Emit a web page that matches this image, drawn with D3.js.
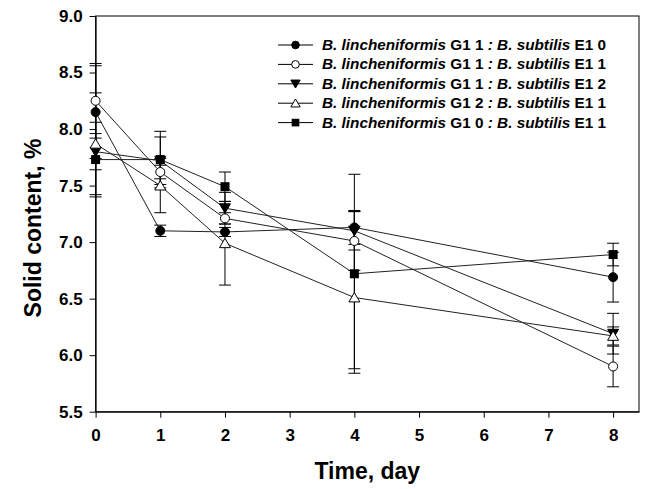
<!DOCTYPE html>
<html><head><meta charset="utf-8">
<script src="https://cdn.jsdelivr.net/npm/d3@7"></script>
<style>body{margin:0;background:#fff}svg{display:block}text{font-family:"Liberation Sans",Arial,sans-serif;font-weight:bold}</style>
</head><body><svg id="c" width="648" height="489"></svg>
<script>
const days = [0, 1, 2, 4, 8];
const xTicks = [0,1,2,3,4,5,6,7,8];
const yTicks = [5.5,6.0,6.5,7.0,7.5,8.0,8.5,9.0];
const seriesNames = [
  ["G1 1", "E1 0"],
  ["G1 1", "E1 1"],
  ["G1 1", "E1 2"],
  ["G1 2", "E1 1"],
  ["G1 0", "E1 1"]
];
const markers = ["circleFilled","circleOpen","triDownFilled","triUpOpen","squareFilled"];
const valA = [8.15, 7.10, 7.09, 7.13, 6.69];
const errA = [0.41, 0.05, 0.04, 0.15, 0.22];
const valB = [8.25, 7.62, 7.21, 7.01, 5.90];
const errB = [0.33, 0.06, 0.05, 0.26, 0.18];
const valC = [7.80, 7.72, 7.30, 7.10, 6.19];
const errC = [0.16, 0.21, 0.14, 0.17, 0.18];
const valD = [7.87, 7.50, 6.99, 6.51, 6.17];
const errD = [0.45, 0.24, 0.37, 0.63, 0.08];
const valE = [7.73, 7.73, 7.49, 6.72, 6.89];
const errE = [0.33, 0.25, 0.13, 0.88, 0.10];
const vals = [valA, valB, valC, valD, valE];
const errs = [errA, errB, errC, errD, errE];

const svg = d3.select("#c");
const L = 95.6, R = 639, T = 16, B = 411.7;
const x = d3.scaleLinear().domain([0, 8.4]).range([L, R]);
const y = d3.scaleLinear().domain([5.5, 9.0]).range([B, T]);

svg.append("rect").attr("x", L).attr("y", T).attr("width", R-L).attr("height", B-T)
  .attr("fill","none").attr("stroke","#000").attr("stroke-width",1);

const xa = svg.append("g").attr("transform",`translate(0,${B})`)
  .call(d3.axisBottom(x).tickValues(xTicks).tickFormat(d3.format("d")).tickSize(6).tickSizeOuter(0));
const ya = svg.append("g").attr("transform",`translate(${L},0)`)
  .call(d3.axisLeft(y).tickValues(yTicks).tickFormat(d3.format(".1f")).tickSize(6).tickSizeOuter(0));
[xa, ya].forEach(a=>{
  a.select(".domain").attr("stroke","#000");
  a.selectAll(".tick line").attr("stroke","#000");
  a.selectAll("text").attr("font-size",17).attr("font-family","Liberation Sans, Arial").attr("font-weight","bold").attr("fill","#000");
});
xa.selectAll("text").attr("dy","1.2em");
ya.selectAll("text").attr("dx","-4px");

svg.append("text").attr("x", (L+R)/2).attr("y", 479).attr("text-anchor","middle")
  .attr("font-size",23).text("Time, day");
svg.append("text").attr("transform",`translate(41,228) rotate(-90)`).attr("text-anchor","middle")
  .attr("font-size",23).text("Solid content, %");

function drawMarker(g, type, cx, cy, sc) {
  sc = sc || 1;
  if (type === "circleFilled" || type === "circleOpen") {
    g.append("circle").attr("cx",cx).attr("cy",cy).attr("r",4.5*sc)
      .attr("fill", type==="circleFilled" ? "#000" : "#fff").attr("stroke","#000").attr("stroke-width",1);
  } else if (type === "squareFilled") {
    g.append("rect").attr("x",cx-4.5*sc).attr("y",cy-4.5*sc).attr("width",9*sc).attr("height",9*sc).attr("fill","#000");
  } else {
    const down = type === "triDownFilled";
    const s = 5.5*sc;
    const pts = down ? [[cx-s,cy-s*0.8],[cx+s,cy-s*0.8],[cx,cy+s*0.9]] : [[cx-s,cy+s*0.8],[cx+s,cy+s*0.8],[cx,cy-s*0.9]];
    g.append("path").attr("d", d3.line()(pts)+"Z")
      .attr("fill", down ? "#000" : "#fff").attr("stroke","#000").attr("stroke-width",1);
  }
}

const line = d3.line().x(d=>x(d[0])).y(d=>y(d[1]));
const gl = svg.append("g");
vals.forEach(v=>{
  gl.append("path").attr("d", line(days.map((d,i)=>[d,v[i]]))).attr("fill","none")
    .attr("stroke","#222").attr("stroke-width",1);
});
const ge = svg.append("g");
vals.forEach((v,k)=>{
  days.forEach((d,i)=>{
    const cx = x(d), hi = y(v[i]+errs[k][i]), lo = y(v[i]-errs[k][i]);
    ge.append("line").attr("x1",cx).attr("x2",cx).attr("y1",hi).attr("y2",lo).attr("stroke","#000");
    ge.append("line").attr("x1",cx-6).attr("x2",cx+6).attr("y1",hi).attr("y2",hi).attr("stroke","#000");
    ge.append("line").attr("x1",cx-6).attr("x2",cx+6).attr("y1",lo).attr("y2",lo).attr("stroke","#000");
  });
});
const gm = svg.append("g");
vals.forEach((v,k)=>{
  days.forEach((d,i)=> drawMarker(gm, markers[k], x(d), y(v[i])));
});

const lg = svg.append("g");
seriesNames.forEach((n,k)=>{
  const cy = 45 + k*19.4;
  lg.append("line").attr("x1",278).attr("x2",313).attr("y1",cy).attr("y2",cy).attr("stroke","#000");
  drawMarker(lg, markers[k], 295.5, cy, 0.85);
  const t = lg.append("text").attr("x",322).attr("y",cy+5).attr("font-size",15.3).attr("fill","#000");
  t.append("tspan").attr("font-style","italic").text("B. lincheniformis ");
  t.append("tspan").text(n[0]+" ");
  t.append("tspan").attr("font-style","italic").text(": B. subtilis ");
  t.append("tspan").text(n[1]);
});
</script></body></html>
